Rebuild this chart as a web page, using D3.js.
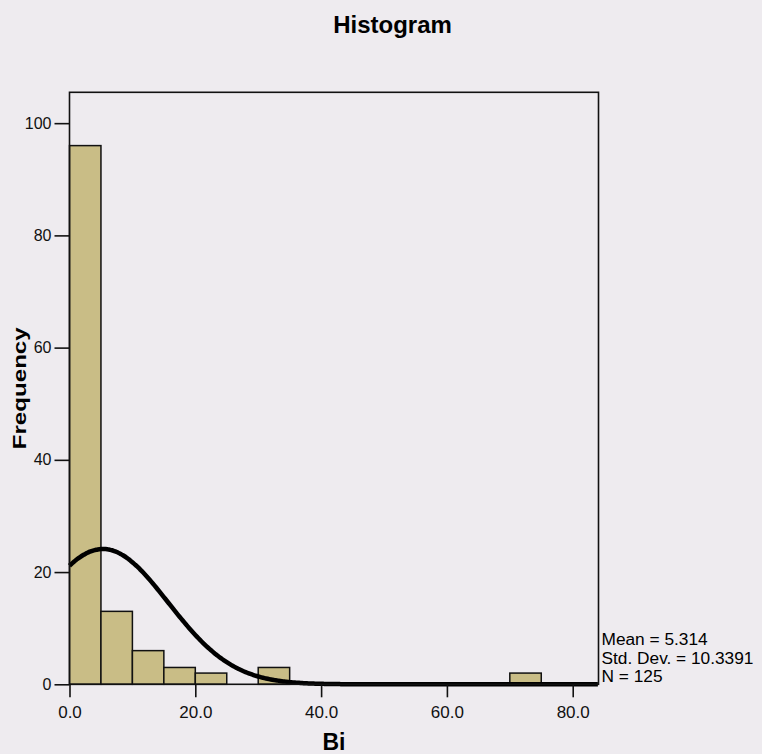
<!DOCTYPE html>
<meta charset="utf-8">
<style>
body { margin: 0; background: #eeebef; }
svg { display: block; font-family: "Liberation Sans", Arial, sans-serif; }
.bars rect { fill: #c9bd86; stroke: #111; stroke-width: 1.5px; }
.curve { fill: none; stroke: #000; stroke-width: 4.5px; }
.frame { fill: none; stroke: #111; stroke-width: 1.6px; }
.axis path { display: none; }
.axis line { stroke: #111; stroke-width: 1.6px; }
.axis text { fill: #111; }
</style>
<svg width="762" height="754"></svg>
<script src="https://d3js.org/d3.v7.min.js"></script>
<script>

// bin edges (width 5) and counts
var binStart = [0, 5, 10, 15, 20, 25, 30, 35, 40, 45, 50, 55, 60, 65, 70, 75, 80];
var binCount = [96, 13, 6, 3, 2, 0, 3, 0, 0, 0, 0, 0, 0, 0, 2, 0, 0];
var binWidth = 5;

var xTicks = [0, 20, 40, 60, 80];
var yTicks = [0, 20, 40, 60, 80, 100];

var stats = { mean: 5.314, sd: 10.3391, n: 125 };
var statLines = ["Mean = 5.314", "Std. Dev. = 10.3391", "N = 125"];

var svg = d3.select("svg"),
    plotLeft = 69.5, plotRight = 598.5, plotTop = 92.3, plotBottom = 684.3;

var x = d3.scaleLinear().domain([0, 84.1]).range([plotLeft, plotRight]);
var y = d3.scaleLinear().domain([0, 105.5]).range([plotBottom, plotTop]);

svg.append("rect")
    .attr("width", 762).attr("height", 754)
    .attr("fill", "#eeebef");

// bars
svg.append("g")
    .attr("class", "bars")
  .selectAll("rect")
  .data(binStart.map(function(s, i) { return { x0: s, n: binCount[i] }; })
      .filter(function(d) { return d.n > 0; }))
  .enter().append("rect")
    .attr("x", function(d) { return x(d.x0); })
    .attr("width", function(d) { return x(d.x0 + binWidth) - x(d.x0); })
    .attr("y", function(d) { return y(d.n); })
    .attr("height", function(d) { return y(0) - y(d.n); });

// normal curve scaled to counts
var pts = d3.range(0, 84.1, 0.25).map(function(v) {
  var z = (v - stats.mean) / stats.sd;
  return [v, stats.n * binWidth * Math.exp(-0.5 * z * z) / (stats.sd * Math.sqrt(2 * Math.PI))];
});
svg.append("path")
    .attr("class", "curve")
    .attr("d", d3.line()
        .x(function(d) { return x(d[0]); })
        .y(function(d) { return y(d[1]); })
        .curve(d3.curveBasis)(pts));

svg.append("rect")
    .attr("class", "frame")
    .attr("x", plotLeft).attr("y", plotTop)
    .attr("width", plotRight - plotLeft).attr("height", plotBottom - plotTop);

svg.append("g")
    .attr("class", "axis")
    .attr("transform", "translate(0," + plotBottom + ")")
    .call(d3.axisBottom(x).tickValues(xTicks).tickFormat(d3.format(".1f"))
        .tickSize(13).tickPadding(9))
    .selectAll("text").style("font-size", "17px");

svg.append("g")
    .attr("class", "axis")
    .attr("transform", "translate(" + plotLeft + ",0)")
    .call(d3.axisLeft(y).tickValues(yTicks).tickSize(15).tickPadding(3))
    .selectAll("text").style("font-size", "16px");

svg.append("text")
    .attr("x", 392.5).attr("y", 33)
    .attr("text-anchor", "middle")
    .style("font-size", "24px").style("font-weight", "bold")
    .text("Histogram");

svg.append("text")
    .attr("x", (plotLeft + plotRight) / 2).attr("y", 750)
    .attr("text-anchor", "middle")
    .style("font-size", "23px").style("font-weight", "bold")
    .text("Bi");

svg.append("text")
    .attr("transform", "translate(26," + (plotTop + plotBottom) / 2 + ") rotate(-90)")
    .attr("text-anchor", "middle")
    .attr("textLength", 122).attr("lengthAdjust", "spacingAndGlyphs")
    .style("font-size", "18px").style("font-weight", "bold")
    .text("Frequency");

svg.append("g")
  .selectAll("text")
  .data(statLines)
  .enter().append("text")
    .attr("x", plotRight + 3)
    .attr("y", function(d, i) { return 645 + i * 18.5; })
    .style("font-size", "17.3px")
    .text(function(d) { return d; });

</script>
